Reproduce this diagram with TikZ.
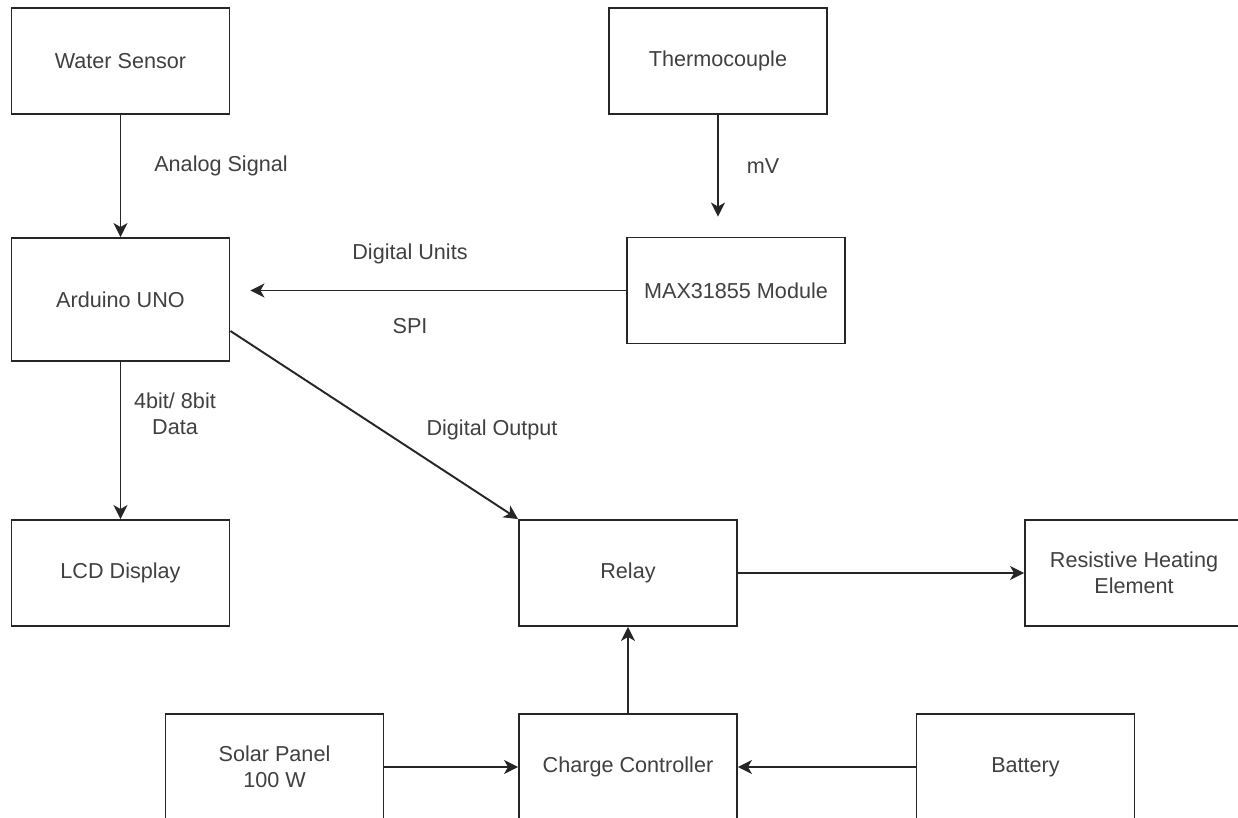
\documentclass[tikz,border=0pt]{standalone}
\usepackage{fontspec}
\setmainfont{Liberation Sans}
\usetikzlibrary{arrows.meta}

\begin{document}
\begin{tikzpicture}[x=0.02cm,y=-0.02cm]
\colorlet{ink}{black!85}
\tikzset{blk/.style={draw=ink,line width=1.1pt,minimum width=4.36cm,minimum height=2.12cm,align=center,inner sep=0pt,
                     text=black!75,font=\fontsize{12.3}{14.8}\selectfont},
         lbl/.style={text=black!75,font=\fontsize{12.3}{14.8}\selectfont,align=center,inner sep=0pt},
         flow/.style={draw=ink,line width=1.1pt,-{Stealth[length=0.28cm,width=0.28cm,inset=0.08cm]}}}

\useasboundingbox (0,0) rectangle (1238,818);
\clip (0,0) rectangle (1238,818);

% the blocks: name / centre x / centre y / text
\foreach \n/\x/\y/\t in {water/120.5/61/{Water Sensor}, thermo/718/61/Thermocouple,
                         max/736/290.5/{MAX31855 Module}, lcd/120.5/573/{LCD Display},
                         relay/628/573/Relay, heater/1134/573/{Resistive Heating\\Element},
                         solar/274.5/767/{Solar Panel\\100 W}, charge/628/767/{Charge Controller},
                         battery/1025.5/767/Battery}
    \node[blk] (\n) at (\x,\y) {\t};
\node[blk,minimum height=2.46cm] (uno) at (120.5,299.5) {Arduino UNO};

% signal paths
\draw[flow] (water) -- (uno);
\draw[flow,shorten >=0.4cm] (thermo.south) -- (thermo.south |- max.north);
\draw[flow,shorten >=0.4cm] (max.west) -- (max.west -| uno.east);
\draw[flow] (uno) -- (lcd);
\draw[flow] (uno.-16) -- (relay.north west);
\draw[flow] (relay) -- (heater);

% power side
\draw[flow] (charge) -- (relay);
\draw[flow] (solar) -- (charge);
\draw[flow] (battery) -- (charge);

% labels on the connectors
\node[lbl] (analog) at (221,166) {Analog Signal};
\node[lbl] (mv) at (763,166) {mV};
\node[lbl] (units) at (410,254) {Digital Units};
\node[lbl] (spi) at (410,326) {SPI};
\node[lbl] (bits) at (175,414) {4bit/ 8bit\\Data};
\node[lbl] (dout) at (492,430) {Digital Output};
\end{tikzpicture}
\end{document}
